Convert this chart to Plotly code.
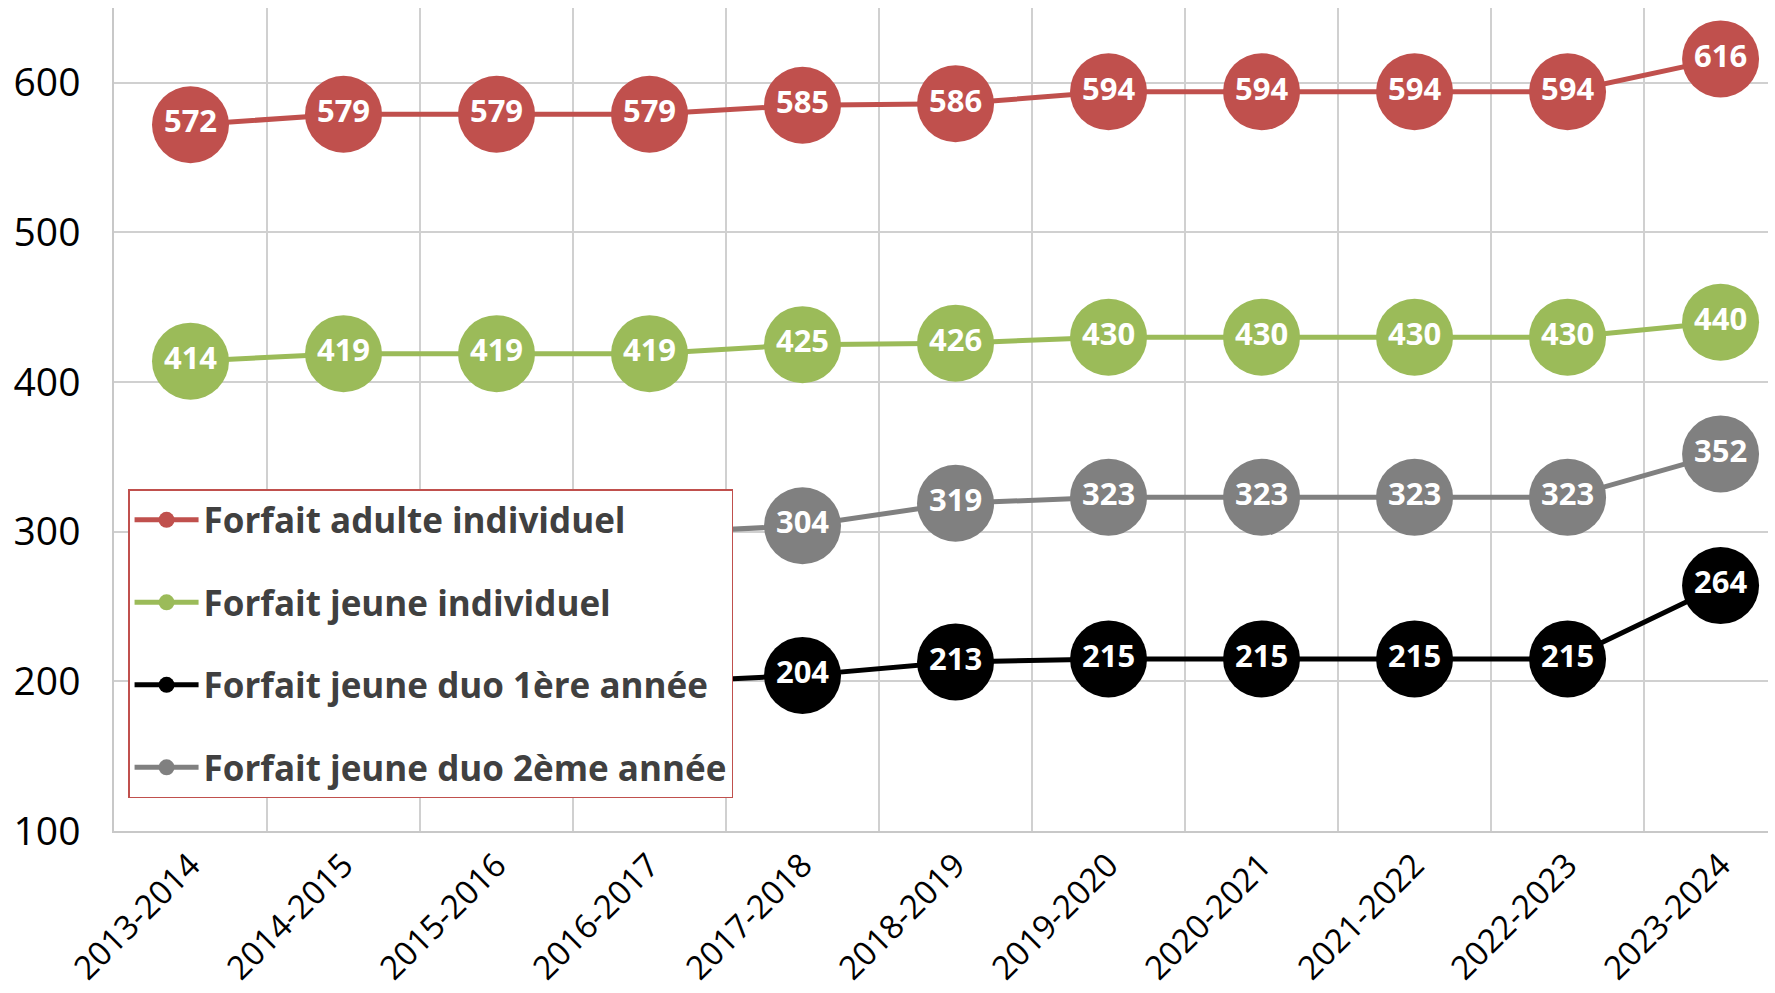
import plotly.graph_objects as go

saisons = ["2013-2014", "2014-2015", "2015-2016", "2016-2017", "2017-2018", "2018-2019",
           "2019-2020", "2020-2021", "2021-2022", "2022-2023", "2023-2024"]

adulte_indiv = [572, 579, 579, 579, 585, 586, 594, 594, 594, 594, 616]
jeune_indiv = [414, 419, 419, 419, 425, 426, 430, 430, 430, 430, 440]
# les 4 premières valeurs des forfaits duo sont cachées par la légende : estimées
jeune_duo_1 = [195, 199, 199, 199, 204, 213, 215, 215, 215, 215, 264]
jeune_duo_2 = [292, 299, 299, 299, 304, 319, 323, 323, 323, 323, 352]
nb_caches = 4  # points duo masqués par la légende (pas d'étiquette)

series = [
    ("Forfait adulte individuel", adulte_indiv, "#C0504D", 0),
    ("Forfait jeune individuel", jeune_indiv, "#9BBB59", 0),
    ("Forfait jeune duo 1ère année", jeune_duo_1, "#000000", nb_caches),
    ("Forfait jeune duo 2ème année", jeune_duo_2, "#808080", nb_caches),
]

fig = go.Figure()

for i, (nom, vals, couleur, caches) in enumerate(series):
    etiquettes = ["" if k < caches else str(v) for k, v in enumerate(vals)]
    fig.add_trace(go.Scatter(
        x=saisons,
        y=vals,
        name=nom,
        legendgroup=nom,
        legendrank=i,
        mode="lines+markers+text",
        line=dict(color=couleur, width=5),
        marker=dict(color=couleur, size=77),
        text=etiquettes,
        textposition="middle center",
        textfont=dict(family="Open Sans", size=31, color="white", weight="bold"),
        cliponaxis=False,
        hoverinfo="skip",
    ))

fig.update_layout(
    width=1775,
    height=993,
    template="none",
    plot_bgcolor="white",
    paper_bgcolor="white",
    margin=dict(l=114, r=7, t=8, b=162),
    font=dict(family="Open Sans", color="#000000"),
    showlegend=True,
    legend=dict(
        x=0.0085,
        y=0.4155,
        xanchor="left",
        yanchor="top",
        bgcolor="white",
        bordercolor="#C0504D",
        borderwidth=1.5,
        itemwidth=64,
        tracegroupgap=34,
        traceorder="grouped",
        font=dict(family="Open Sans", size=35, color="#404040", weight="bold"),
    ),
)

fig.update_xaxes(
    type="category",
    range=[-0.5, 10.31],
    tickson="boundaries",
    showgrid=True,
    gridcolor="#D0D0D0",
    gridwidth=1.5,
    showline=True,
    linecolor="#C8C8C8",
    linewidth=1.5,
    ticks="",
    tickangle=-45,
    tickfont=dict(family="Open Sans", size=33, color="#000000"),
    zeroline=False,
)

fig.update_yaxes(
    range=[100, 650],
    tickvals=[100, 200, 300, 400, 500, 600],
    showgrid=True,
    gridcolor="#D0D0D0",
    gridwidth=1.5,
    showline=True,
    linecolor="#C8C8C8",
    linewidth=1.5,
    ticks="",
    ticklabelstandoff=24,
    tickfont=dict(family="Open Sans", size=39, color="#000000"),
    zeroline=False,
)

fig.write_html("out.html", config={"displayModeBar": False},
               post_script="document.body.style.margin='0';")
